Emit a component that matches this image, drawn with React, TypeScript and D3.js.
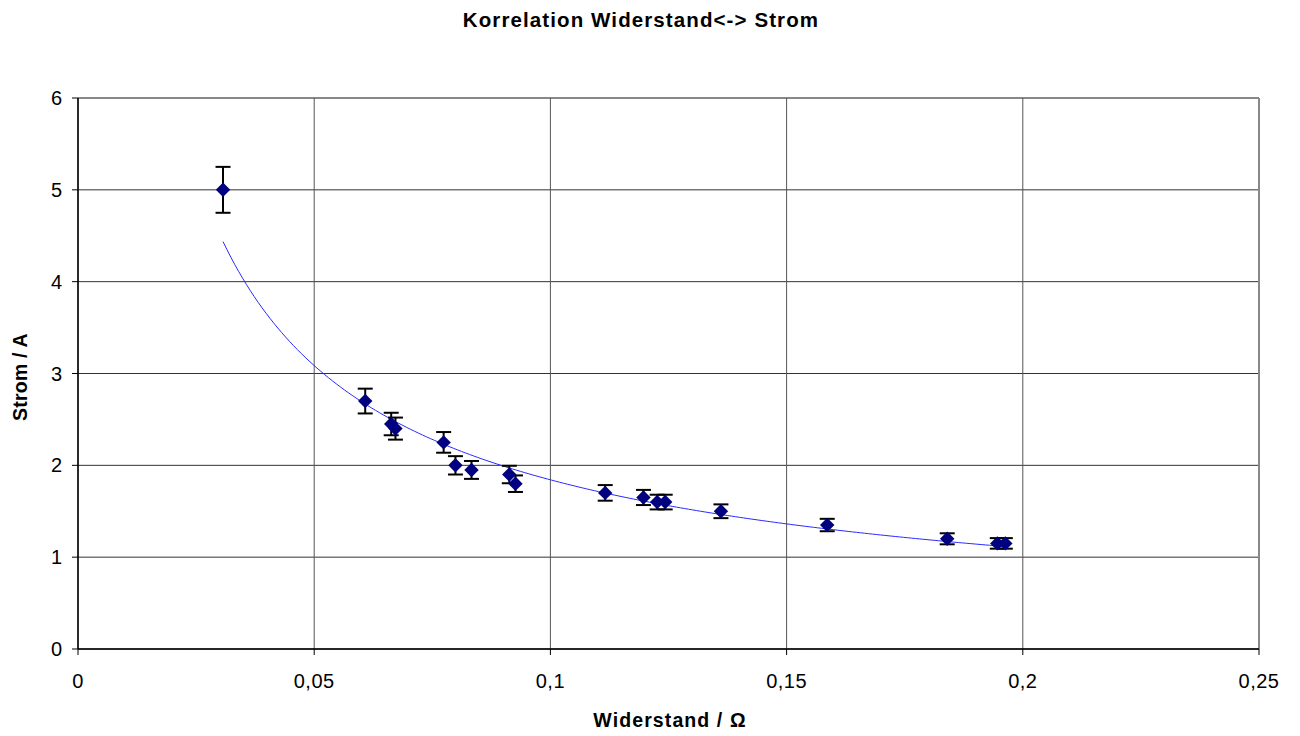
import React from "react";
import * as d3 from "d3";

// Measured resistance (Ω) and current (A)
const widerstand = [
  0.0307, 0.0608, 0.0663, 0.0672, 0.0774, 0.0799, 0.0833, 0.0913, 0.0926,
  0.1116, 0.1197, 0.1226, 0.1243, 0.1361, 0.1586, 0.184, 0.1946, 0.1963,
];
const strom = [
  5.0, 2.7, 2.45, 2.4, 2.25, 2.0, 1.95, 1.9, 1.8,
  1.7, 1.65, 1.6, 1.6, 1.5, 1.35, 1.2, 1.15, 1.15,
];
// Relative uncertainty of the current measurement
const fehlerAnteil = 0.05;

const xTicks = [0, 0.05, 0.1, 0.15, 0.2, 0.25];
const yTicks = [0, 1, 2, 3, 4, 5, 6];

const W = 1300;
const H = 736;
const M = { left: 78, right: 1259, top: 98, bottom: 649 };

const fmt = (v: number) => String(v).replace(".", ",");

// Square diamond marker (equal width and height)
const squareDiamond: d3.SymbolType = {
  draw(ctx, size) {
    const r = Math.sqrt(size / 2);
    ctx.moveTo(0, -r);
    ctx.lineTo(r, 0);
    ctx.lineTo(0, r);
    ctx.lineTo(-r, 0);
    ctx.closePath();
  },
};

export default function App() {
  const x = d3.scaleLinear().domain([0, 0.25]).range([M.left, M.right]);
  const y = d3.scaleLinear().domain([0, 6]).range([M.bottom, M.top]);

  const pts = widerstand.map((r, i) => ({ r, i: strom[i] }));

  // Power-law trendline (least squares in log-log space)
  const lx = pts.map((p) => Math.log(p.r));
  const ly = pts.map((p) => Math.log(p.i));
  const mx = d3.mean(lx)!;
  const my = d3.mean(ly)!;
  const b =
    d3.sum(lx.map((v, k) => (v - mx) * (ly[k] - my))) /
    d3.sum(lx.map((v) => (v - mx) * (v - mx)));
  const a = Math.exp(my - b * mx);
  const [rMin, rMax] = d3.extent(widerstand) as [number, number];
  const trend = d3.range(0, 201).map((k) => {
    const r = rMin + ((rMax - rMin) * k) / 200;
    return [r, a * Math.pow(r, b)] as [number, number];
  });
  const trendPath = d3
    .line<[number, number]>()
    .x((d) => x(d[0]))
    .y((d) => y(d[1]))(trend)!;

  const font = "'Liberation Sans', Arial, sans-serif";
  const diamond = d3.symbol().type(squareDiamond).size(104)()!;

  return (
    <svg
      width={W}
      height={H}
      style={{ position: "absolute", left: 0, top: 0, background: "#fff" }}
      fontFamily={font}
    >
      <rect width={W} height={H} fill="#fff" />
      {/* grid */}
      {yTicks.map((t) => (
        <line
          key={"gy" + t}
          x1={M.left}
          x2={M.right}
          y1={y(t)}
          y2={y(t)}
          stroke={t === 6 ? "#888" : "#333"}
          strokeWidth={t === 6 ? 2 : 1}
        />
      ))}
      {xTicks.map((t) => (
        <line
          key={"gx" + t}
          x1={x(t)}
          x2={x(t)}
          y1={M.top}
          y2={M.bottom}
          stroke={t === 0.25 ? "#888" : "#555"}
          strokeWidth={t === 0.25 ? 2 : 1}
        />
      ))}
      {/* axes */}
      <line x1={M.left} x2={M.left} y1={M.top} y2={M.bottom} stroke="#000" strokeWidth={1.5} />
      <line x1={M.left} x2={M.right} y1={M.bottom} y2={M.bottom} stroke="#000" strokeWidth={1.5} />
      {yTicks.map((t) => (
        <g key={"ty" + t}>
          <line x1={M.left - 6} x2={M.left} y1={y(t)} y2={y(t)} stroke="#000" />
          <text x={62} y={y(t)} dy="0.35em" textAnchor="end" fontSize={20}>
            {fmt(t)}
          </text>
        </g>
      ))}
      {xTicks.map((t) => (
        <g key={"tx" + t}>
          <line x1={x(t)} x2={x(t)} y1={M.bottom} y2={M.bottom + 6} stroke="#000" />
          <text x={x(t)} y={688} textAnchor="middle" fontSize={20} letterSpacing={0.5}>
            {fmt(t)}
          </text>
        </g>
      ))}
      {/* trendline */}
      <path d={trendPath} fill="none" stroke="#2a2aff" strokeWidth={1} />
      {/* error bars */}
      {pts.map((p, k) => {
        const e = p.i * fehlerAnteil;
        const cx = x(p.r);
        return (
          <g key={"e" + k} stroke="#000" strokeWidth={2}>
            <line x1={cx} x2={cx} y1={y(p.i + e)} y2={y(p.i - e)} />
            <line x1={cx - 7.5} x2={cx + 7.5} y1={y(p.i + e)} y2={y(p.i + e)} />
            <line x1={cx - 7.5} x2={cx + 7.5} y1={y(p.i - e)} y2={y(p.i - e)} />
          </g>
        );
      })}
      {/* markers */}
      {pts.map((p, k) => (
        <path
          key={"m" + k}
          d={diamond}
          transform={`translate(${x(p.r)},${y(p.i)})`}
          fill="#000080"
        />
      ))}
      {/* titles */}
      <text x={641} y={27} textAnchor="middle" fontSize={20.5} fontWeight="bold" letterSpacing={1.1}>
        Korrelation Widerstand{"<->"} Strom
      </text>
      <text x={670} y={727} textAnchor="middle" fontSize={19.5} fontWeight="bold" letterSpacing={1.1}>
        Widerstand / Ω
      </text>
      <text
        transform={`translate(27,377) rotate(-90)`}
        textAnchor="middle"
        fontSize={19.5}
        fontWeight="bold"
        letterSpacing={0.2}
      >
        Strom / A
      </text>
    </svg>
  );
}
